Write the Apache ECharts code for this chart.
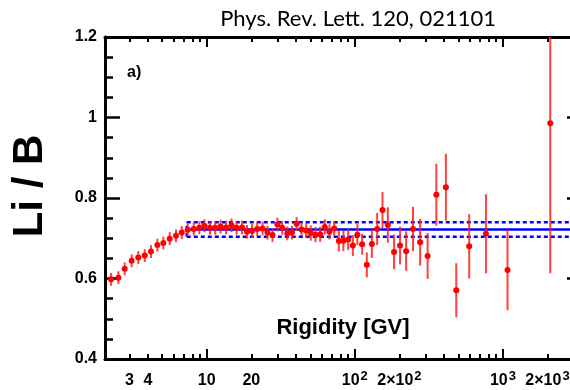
<!DOCTYPE html>
<html><head><meta charset="utf-8">
<script src="https://cdn.jsdelivr.net/npm/echarts@6/dist/echarts.min.js"></script>
<style>html,body{margin:0;padding:0;background:#fff}#c{width:570px;height:390px}</style>
</head><body><div id="c"></div>
<script>
// ---- data ----
const rigidity = [2.26, 2.53, 2.79, 3.11, 3.45, 3.81, 4.20, 4.64, 5.09, 5.62,
  6.20, 6.78, 7.44, 8.17, 8.91, 9.63, 10.5, 11.4, 12.4, 13.5,
  14.7, 15.9, 17.3, 18.7, 20.2, 21.9, 23.8, 25.7, 27.8, 30.0,
  32.3, 35.0, 37.6, 40.4, 43.6, 46.9, 50.4, 54.2, 58.3, 62.7,
  67.4, 72.5, 78.0, 83.7, 90.1, 97.0, 104, 112, 120.5, 130.3,
  141.5, 153.7, 167, 184, 202, 222, 247, 276, 310, 355,
  412, 484, 592, 768, 1074, 2088];
const liB = [0.598, 0.602, 0.624, 0.644, 0.652, 0.657, 0.667, 0.683, 0.688, 0.699,
  0.706, 0.714, 0.721, 0.723, 0.726, 0.731, 0.726, 0.726, 0.729, 0.727,
  0.732, 0.726, 0.727, 0.716, 0.718, 0.723, 0.724, 0.714, 0.708, 0.734,
  0.726, 0.712, 0.714, 0.736, 0.722, 0.719, 0.713, 0.709, 0.710, 0.728,
  0.716, 0.724, 0.693, 0.694, 0.697, 0.682, 0.709, 0.685, 0.634, 0.686,
  0.723, 0.770, 0.733, 0.666, 0.682, 0.668, 0.723, 0.690, 0.656, 0.808,
  0.827, 0.571, 0.680, 0.711, 0.621, 0.986];
const liBErr = [0.016, 0.016, 0.016, 0.016, 0.016, 0.016, 0.016, 0.016, 0.016, 0.016,
  0.016, 0.016, 0.016, 0.016, 0.016, 0.016, 0.017, 0.017, 0.017, 0.017,
  0.017, 0.017, 0.017, 0.017, 0.017, 0.017, 0.017, 0.017, 0.017, 0.017,
  0.017, 0.017, 0.017, 0.017, 0.017, 0.019, 0.019, 0.019, 0.019, 0.019,
  0.019, 0.019, 0.026, 0.026, 0.026, 0.026, 0.026, 0.026, 0.031, 0.035,
  0.040, 0.045, 0.044, 0.043, 0.047, 0.049, 0.055, 0.058, 0.057, 0.077,
  0.083, 0.067, 0.080, 0.098, 0.100, 0.373];
const fitStart = 7.33;
const fitValue = 0.722;
const bandUpper = 0.740;
const bandLower = 0.704;
const xMin = 2.055, xMax = 3420;
const yMin = 0.4, yMax = 1.2, yStep = 0.2;
const xMajorTicks = [10, 100, 1000];
const xMinorTicks = [3, 4, 5, 6, 7, 8, 9, 20, 30, 40, 50, 60, 70, 80, 90,
  200, 300, 400, 500, 600, 700, 800, 900, 2000, 3000];
const xLabelValues = [3, 4, 10, 20, 100, 200, 1000, 2000];
const xLabelTexts = ['{b|3}', '{b|4}', '{b|10}', '{b|20}', '{b|10}{s|2}', '{b|2×10}{s|2}', '{b|10}{s|3}', '{b|2×10}{s|3}'];
const titleText = 'Phys. Rev. Lett. 120, 021101';
const yName = 'Li / B';
const xName = 'Rigidity [GV]';
const panelTag = 'a)';

// ---- chart ----
const chart = echarts.init(document.getElementById('c'), null, {renderer: 'canvas'});
const gridRect = {left: 105, top: 37, width: 477, height: 322, outerBoundsMode: 'none', containLabel: false};
const lbl = {fontFamily: 'Liberation Sans', fontWeight: 'bold', fontSize: 16, color: '#000'};
const axLine = {show: true, lineStyle: {color: '#000', width: 3}};

function xAxisDef(grid, pos, ticks, len, showLine, showLabel) {
  return {
    gridIndex: grid, type: 'log', logBase: 10, position: pos, min: xMin, max: xMax,
    axisLine: showLine ? axLine : {show: false},
    axisTick: {show: true, inside: true, length: len, customValues: ticks,
      lineStyle: {color: '#000', width: 2}},
    axisLabel: showLabel ? {
      show: true, customValues: xLabelValues, margin: 11,
      fontFamily: lbl.fontFamily, fontWeight: 'bold', fontSize: 16, color: '#000',
      hideOverlap: false,
      formatter: function (v) {
        const i = xLabelValues.findIndex(t => Math.abs(t - v) / t < 1e-6);
        return i >= 0 ? xLabelTexts[i] : '';
      },
      rich: {
        b: {fontFamily: lbl.fontFamily, fontWeight: 'bold', fontSize: 16, color: '#000',
          lineHeight: 22},
        s: {fontFamily: lbl.fontFamily, fontWeight: 'bold', fontSize: 13, color: '#000',
          verticalAlign: 'top', lineHeight: 5, padding: [0, 0, 0, 1]}
      }
    } : {show: false},
    splitLine: {show: false}
  };
}
function yAxisDef(grid, pos, showLabel, show) {
  return {
    gridIndex: grid, type: 'value', position: pos, min: yMin, max: yMax, interval: yStep,
    show: show,
    axisLine: axLine,
    axisTick: {show: true, inside: true, length: 15, lineStyle: {color: '#000', width: 2.5}},
    minorTick: {show: true, splitNumber: 4, length: 8, lineStyle: {color: '#000', width: 2.5}},
    axisLabel: showLabel ? Object.assign({show: true, margin: 8}, lbl) : {show: false},
    splitLine: {show: false}, minorSplitLine: {show: false}
  };
}

const errData = rigidity.map((r, i) => [r, liB[i], liBErr[i]]);
const ptData = rigidity.map((r, i) => [r, liB[i]]);
const blue = '#0000ff';

const option = {
  animation: false,
  backgroundColor: '#fff',
  title: {text: titleText, right: 69, top: 3,
    textStyle: {fontFamily: 'Lato', fontWeight: 'normal', fontSize: 22, color: '#000'}},
  grid: [Object.assign({}, gridRect), Object.assign({}, gridRect)],
  xAxis: [
    xAxisDef(0, 'bottom', xMajorTicks, 10, true, true),
    xAxisDef(0, 'top', xMajorTicks, 10, true, false),
    xAxisDef(1, 'bottom', xMinorTicks, 5, false, false),
    xAxisDef(1, 'top', xMinorTicks, 5, false, false)
  ],
  yAxis: [
    yAxisDef(0, 'left', true, true),
    yAxisDef(0, 'right', false, true),
    yAxisDef(1, 'left', false, false)
  ],
  graphic: [
    {type: 'text', x: 30, y: 186, rotation: Math.PI / 2,
      style: {text: yName, font: 'bold 42px "Liberation Sans"', fill: '#000',
        textAlign: 'center', textVerticalAlign: 'middle'}},
    {type: 'text', x: 343, y: 328,
      style: {text: xName, font: 'bold 22px "Liberation Sans"', fill: '#000',
        textAlign: 'center', textVerticalAlign: 'middle'}},
    {type: 'text', x: 127, y: 73,
      style: {text: panelTag, font: 'bold 16px "Liberation Sans"', fill: '#000',
        textAlign: 'left', textVerticalAlign: 'middle'}}
  ],
  series: [
    {type: 'line', xAxisIndex: 0, yAxisIndex: 0, symbol: 'none', z: 1, silent: true,
      data: [[fitStart, fitValue], [xMax, fitValue]],
      lineStyle: {color: blue, width: 2.5}},
    {type: 'line', xAxisIndex: 0, yAxisIndex: 0, symbol: 'none', z: 1, silent: true,
      data: [[fitStart, bandUpper], [xMax, bandUpper]],
      lineStyle: {color: blue, width: 2.5, type: [4, 3]}},
    {type: 'line', xAxisIndex: 0, yAxisIndex: 0, symbol: 'none', z: 1, silent: true,
      data: [[fitStart, bandLower], [xMax, bandLower]],
      lineStyle: {color: blue, width: 2.5, type: [4, 3]}},
    {type: 'line', xAxisIndex: 0, yAxisIndex: 0, symbol: 'none', z: 1, silent: true,
      data: [[fitStart, bandLower], [fitStart, bandUpper]],
      lineStyle: {color: blue, width: 2.5, type: [4, 3]}},
    {type: 'custom', xAxisIndex: 0, yAxisIndex: 0, z: 3, clip: true, silent: true,
      encode: {x: 0, y: 1},
      data: errData,
      renderItem: function (params, api) {
        const x = api.value(0), y = api.value(1), e = api.value(2);
        const p1 = api.coord([x, y - e]);
        const p2 = api.coord([x, y + e]);
        return {type: 'line', shape: {x1: p1[0], y1: p1[1], x2: p2[0], y2: p2[1]},
          style: {stroke: '#ff2020', lineWidth: 2, opacity: 0.85}};
      }},
    {type: 'scatter', xAxisIndex: 0, yAxisIndex: 0, z: 4, symbol: 'circle', symbolSize: 6,
      data: ptData, itemStyle: {color: '#ff0000', opacity: 1}}
  ]
};
chart.setOption(option);
</script>
</body></html>
